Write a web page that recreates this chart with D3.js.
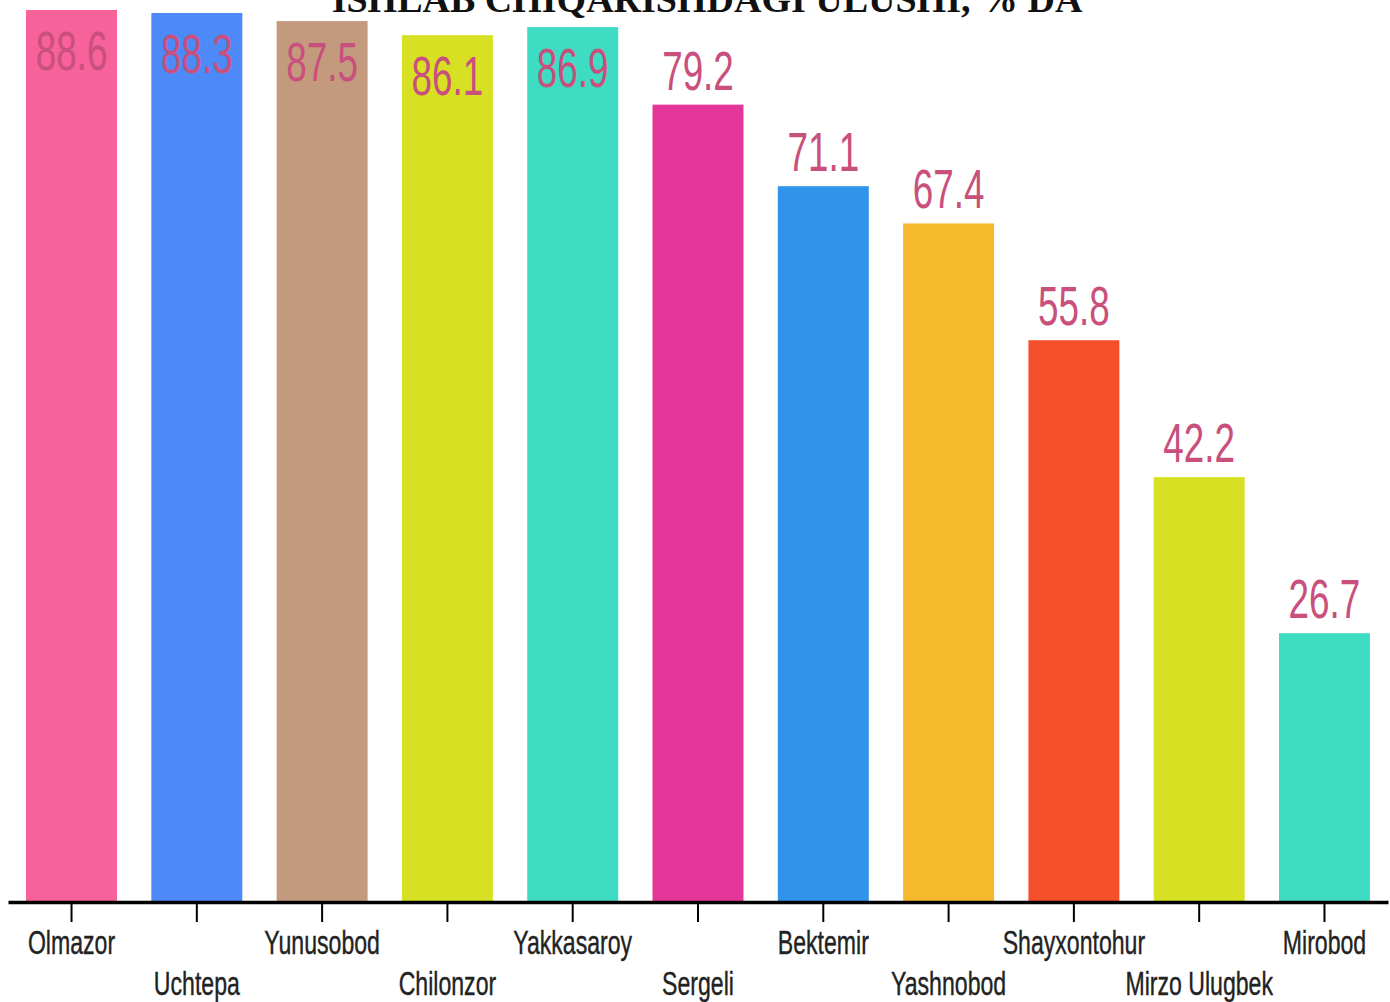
<!DOCTYPE html>
<meta charset="utf-8">
<style>
  body { margin: 0; background: #fff; }
  .title {
    font-family: "Liberation Serif", "Times New Roman", serif;
    font-weight: bold;
    fill: #111;
  }
  .val {
    font-family: "Liberation Sans", Arial, sans-serif;
    fill: #c94f7c;
  }
  .x-axis text {
    font-family: "Liberation Sans", Arial, sans-serif;
    fill: #222;
  }
</style>
<body>
<script src="https://cdn.jsdelivr.net/npm/d3@7"></script>
<script>
// data
var districts = ["Olmazor", "Uchtepa", "Yunusobod", "Chilonzor", "Yakkasaroy", "Sergeli",
                 "Bektemir", "Yashnobod", "Shayxontohur", "Mirzo Ulugbek", "Mirobod"];
var shares = [88.6, 88.3, 87.5, 86.1, 86.9, 79.2, 71.1, 67.4, 55.8, 42.2, 26.7];
var barColors = ["#f66299", "#4d8af8", "#c49a7f", "#d7e022", "#3ddcc3", "#e43699",
                 "#3094ea", "#f6b92d", "#f54f2c", "#d7e022", "#3ddcc3"];
var title = "ISHLAB CHIQARISHDAGI ULUSHI, % DA";

var width = 1390, height = 1002;
var baseY = 902;

var svg = d3.select("body").append("svg")
    .attr("width", width)
    .attr("height", height);

var x = d3.scaleBand()
    .domain(districts)
    .range([8, 1388])
    .paddingInner(0.274)
    .paddingOuter(0.144);

var y = d3.scaleLinear()
    .domain([0, d3.max(shares)])
    .range([baseY, 10]);

var rows = districts.map(function(d, i) { return {name: d, v: shares[i], c: barColors[i]}; });

// title, cut off at the top like the original
svg.append("text")
    .attr("class", "title")
    .attr("x", 707)
    .attr("y", 12)
    .attr("text-anchor", "middle")
    .style("font-size", "38px")
    .text(title);

svg.append("g").selectAll("rect")
    .data(rows)
  .enter().append("rect")
    .attr("x", function(d) { return x(d.name); })
    .attr("y", function(d) { return y(d.v); })
    .attr("width", x.bandwidth())
    .attr("height", function(d) { return baseY - y(d.v); })
    .attr("fill", function(d) { return d.c; });

// value labels: above the bar, or inside it when there is no room on top
svg.append("g").selectAll("text")
    .data(rows)
  .enter().append("text")
    .attr("class", "val")
    .attr("text-anchor", "middle")
    .style("font-size", "55px")
    .attr("transform", function(d) {
      var top = y(d.v);
      var ty = (top - 55 < 0) ? top + 60 : top - 15;
      return "translate(" + (x(d.name) + x.bandwidth() / 2) + "," + ty + ") scale(0.67,1)";
    })
    .text(function(d) { return d.v; });

var axis = svg.append("g")
    .attr("class", "x-axis")
    .attr("transform", "translate(0," + baseY + ")")
    .call(d3.axisBottom(x).tickSize(20).tickSizeOuter(0));

axis.select(".domain")
    .attr("stroke", "#000")
    .attr("stroke-width", 3.5);

axis.selectAll(".tick line")
    .attr("stroke", "#000")
    .attr("stroke-width", 2);

axis.selectAll(".tick text")
    .attr("dy", null)
    .attr("y", null)
    .attr("transform", function(d, i) {
      return "translate(0," + (i % 2 === 0 ? 52 : 93) + ") scale(0.7,1)";
    })
    .style("font-size", "33px")
    .style("stroke", "#222")
    .style("stroke-width", 0.4);
</script>
</body>
